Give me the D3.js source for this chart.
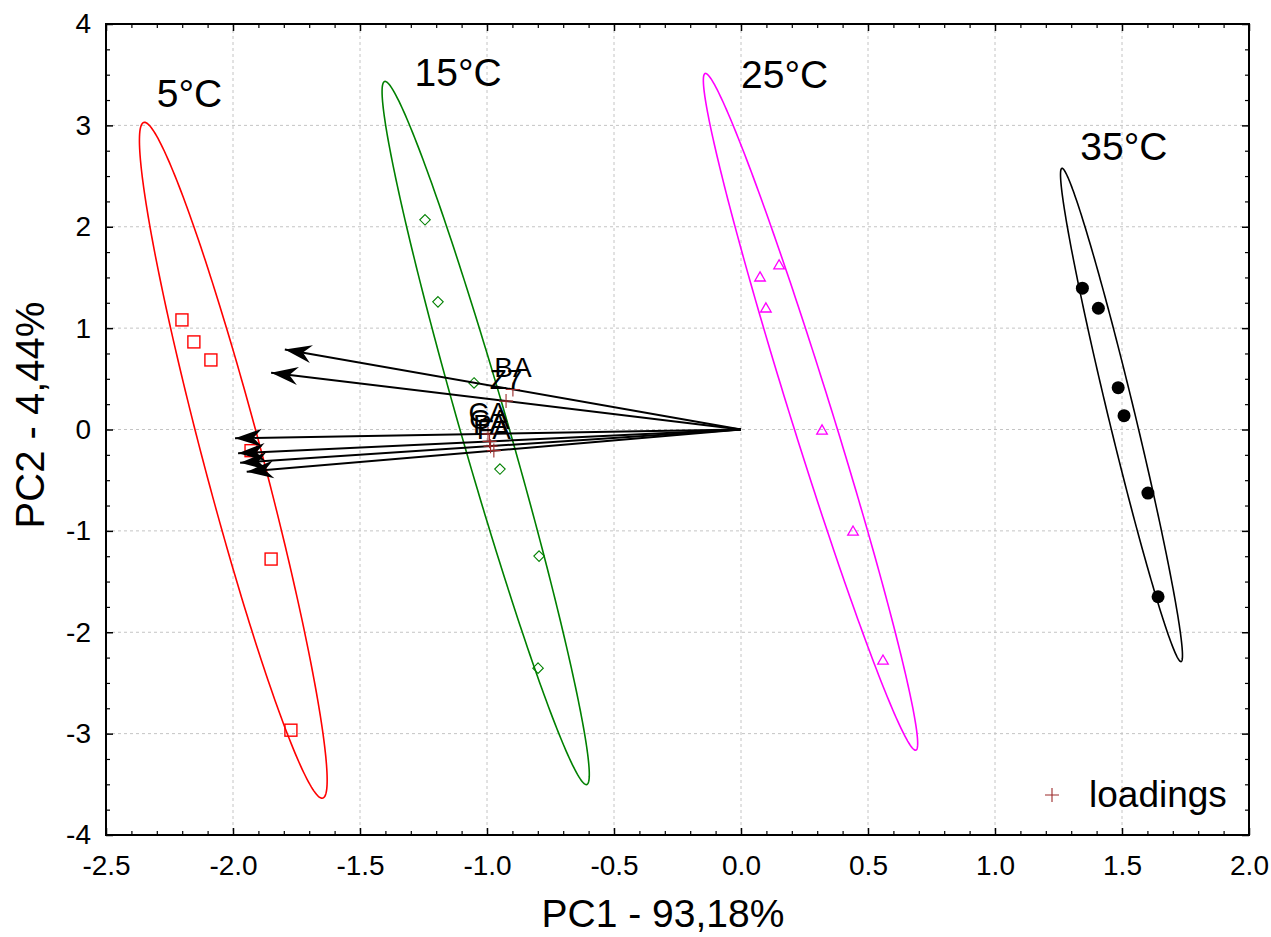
<!DOCTYPE html>
<html>
<head>
<meta charset="utf-8">
<script src="https://cdn.jsdelivr.net/npm/d3@7"></script>
<style>
  body { margin: 0; background: #fff; }
  text { font-family: "Liberation Sans", Arial, sans-serif; fill: #000; }
</style>
</head>
<body>
<svg id="chart" width="1271" height="937"></svg>
<script>
// scores (PC1, PC2) for each temperature group
const groups = ['5°C', '15°C', '25°C', '35°C'];
const scores5 = [[-2.201, 1.081], [-2.154, 0.864], [-2.087, 0.686], [-1.929, -0.209], [-1.850, -1.278], [-1.772, -2.966]];
const scores15 = [[-1.244, 2.068], [-1.193, 1.259], [-1.051, 0.459], [-0.949, -0.390], [-0.795, -1.249], [-0.799, -2.354]];
const scores25 = [[0.075, 1.505], [0.098, 1.199], [0.150, 1.624], [0.319, -0.005], [0.441, -1.002], [0.559, -2.275]];
const scores35 = [[1.344, 1.394], [1.407, 1.196], [1.485, 0.413], [1.508, 0.136], [1.602, -0.627], [1.642, -1.650]];
// where the group names sit (data units, left / baseline)
const groupLabelPos = [[-2.30, 3.18], [-1.285, 3.39], [0.0, 3.37], [1.336, 2.66]];

// loadings
const loadingNames = ['BA', 'Z7', 'CA', 'GA', 'PA', 'FA'];
const loadingPC1 = [-0.898, -0.925, -0.996, -0.990, -0.986, -0.973];
const loadingPC2 = [0.395, 0.280, -0.043, -0.117, -0.164, -0.208];

const xTicks = [-2.5, -2.0, -1.5, -1.0, -0.5, 0.0, 0.5, 1.0, 1.5, 2.0];
const yTicks = [-4, -3, -2, -1, 0, 1, 2, 3, 4];
const xTitle = 'PC1 - 93,18%';
const yTitle = 'PC2 - 4,44%';

const colors = ['#ff0000', '#008000', '#ff00ff', '#000000'];
const arrowScale = 2;      // arrows drawn at twice the loading
const ellipseK = 2.125;    // ellipse size in standard deviations

const svg = d3.select('#chart');
const plot = { left: 106, right: 1249, top: 24, bottom: 835 };

const x = d3.scaleLinear().domain([-2.5, 2.0]).range([plot.left, plot.right]);
const y = d3.scaleLinear().domain([-4, 4]).range([plot.bottom, plot.top]);

// grid
const grid = svg.append('g')
  .attr('stroke', '#c4c4c4')
  .attr('stroke-width', 1)
  .attr('stroke-dasharray', '3,3');
grid.selectAll('.gx').data(xTicks.slice(1, -1)).enter().append('line')
  .attr('x1', d => x(d)).attr('x2', d => x(d))
  .attr('y1', plot.top).attr('y2', plot.bottom);
grid.selectAll('.gy').data(yTicks.slice(1, -1)).enter().append('line')
  .attr('y1', d => y(d)).attr('y2', d => y(d))
  .attr('x1', plot.left).attr('x2', plot.right);

// axes with inward ticks
const xMinor = d3.range(-25, 21).map(d => d / 10).filter(d => !xTicks.some(t => Math.abs(t - d) < 1e-9));
const yMinor = d3.range(-16, 17).map(d => d / 4).filter(d => !yTicks.includes(d));
const fmtX = d => d.toFixed(1);

function addAxis(axisFn, scale, pos, major, minor, labels) {
  const g = svg.append('g').attr('transform', pos);
  g.call(axisFn(scale).tickValues(major).tickSize(-7).tickPadding(labels ? labels.pad : 0)
      .tickFormat(labels ? labels.fmt : ''))
    .call(s => s.select('.domain').remove());
  g.selectAll('.tick line').attr('stroke', '#000').attr('stroke-width', 1.5);
  g.selectAll('.tick text').style('font-size', '28px').attr('fill', '#000');
  const m = svg.append('g').attr('transform', pos);
  m.call(axisFn(scale).tickValues(minor).tickSize(-4).tickFormat(''))
    .call(s => s.select('.domain').remove());
  m.selectAll('.tick line').attr('stroke', '#000').attr('stroke-width', 1.2);
  return g;
}
addAxis(d3.axisBottom, x, `translate(0,${plot.bottom})`, xTicks, xMinor, { pad: 20, fmt: fmtX });
addAxis(d3.axisTop, x, `translate(0,${plot.top})`, xTicks, xMinor, null);
addAxis(d3.axisLeft, y, `translate(${plot.left},0)`, yTicks, yMinor, { pad: 15, fmt: d => String(d) });
addAxis(d3.axisRight, y, `translate(${plot.right},0)`, yTicks, yMinor, null);

svg.append('rect')
  .attr('x', plot.left).attr('y', plot.top)
  .attr('width', plot.right - plot.left).attr('height', plot.bottom - plot.top)
  .attr('fill', 'none').attr('stroke', '#000').attr('stroke-width', 2);

// confidence ellipses from each group's covariance
const allScores = [scores5, scores15, scores25, scores35];
const ellipseLine = d3.line().x(d => x(d[0])).y(d => y(d[1])).curve(d3.curveLinearClosed);

function ellipsePoints(pts) {
  const n = pts.length;
  const mx = d3.mean(pts, p => p[0]), my = d3.mean(pts, p => p[1]);
  let sxx = 0, syy = 0, sxy = 0;
  pts.forEach(p => {
    sxx += (p[0] - mx) ** 2; syy += (p[1] - my) ** 2; sxy += (p[0] - mx) * (p[1] - my);
  });
  sxx /= n - 1; syy /= n - 1; sxy /= n - 1;
  const tr = sxx + syy, det = sxx * syy - sxy * sxy;
  const l1 = tr / 2 + Math.sqrt(tr * tr / 4 - det);
  const l2 = tr / 2 - Math.sqrt(tr * tr / 4 - det);
  const theta = Math.atan2(l1 - sxx, sxy);
  const a = ellipseK * Math.sqrt(l1), b = ellipseK * Math.sqrt(Math.max(l2, 0));
  return d3.range(0, 360, 1.5).map(deg => {
    const t = deg * Math.PI / 180;
    const ex = a * Math.cos(t), ey = b * Math.sin(t);
    return [mx + ex * Math.cos(theta) - ey * Math.sin(theta),
            my + ex * Math.sin(theta) + ey * Math.cos(theta)];
  });
}

svg.append('g').selectAll('path').data(allScores).enter().append('path')
  .attr('d', d => ellipseLine(ellipsePoints(d)))
  .attr('fill', 'none')
  .attr('stroke', (d, i) => colors[i])
  .attr('stroke-width', 1.6);

// markers
const markers = svg.append('g');
markers.selectAll('.sq').data(scores5).enter().append('rect')
  .attr('x', d => x(d[0]) - 6).attr('y', d => y(d[1]) - 6)
  .attr('width', 12).attr('height', 12)
  .attr('fill', 'none').attr('stroke', colors[0]).attr('stroke-width', 1.4);
markers.selectAll('.di').data(scores15).enter().append('path')
  .attr('d', d3.symbol(d3.symbolDiamond2, 70))
  .attr('transform', d => `translate(${x(d[0])},${y(d[1])})`)
  .attr('fill', 'none').attr('stroke', colors[1]).attr('stroke-width', 1.1);
markers.selectAll('.tr').data(scores25).enter().append('path')
  .attr('d', d3.symbol(d3.symbolTriangle2, 80))
  .attr('transform', d => `translate(${x(d[0])},${y(d[1]) + 1})`)
  .attr('fill', 'none').attr('stroke', colors[2]).attr('stroke-width', 1.3);
markers.selectAll('.ci').data(scores35).enter().append('circle')
  .attr('cx', d => x(d[0])).attr('cy', d => y(d[1])).attr('r', 6.5)
  .attr('fill', colors[3]);

// group names
svg.append('g').selectAll('text').data(groups).enter().append('text')
  .attr('x', (d, i) => x(groupLabelPos[i][0]))
  .attr('y', (d, i) => y(groupLabelPos[i][1]))
  .style('font-size', '39px')
  .text(d => d);

// loadings: arrows, crosses and names
const loadings = loadingNames.map((name, i) => ({ name, pc1: loadingPC1[i], pc2: loadingPC2[i] }));
const x0 = x(0), y0 = y(0);

const arrows = svg.append('g');
arrows.selectAll('line').data(loadings).enter().append('line')
  .attr('x1', x0).attr('y1', y0)
  .attr('x2', d => x(d.pc1 * arrowScale)).attr('y2', d => y(d.pc2 * arrowScale))
  .attr('stroke', '#000').attr('stroke-width', 2);
arrows.selectAll('path').data(loadings).enter().append('path')
  .attr('d', d => {
    const tx = x(d.pc1 * arrowScale), ty = y(d.pc2 * arrowScale);
    const len = Math.hypot(tx - x0, ty - y0);
    const ux = (tx - x0) / len, uy = (ty - y0) / len;
    const L = 27, w = 9;
    const bx = tx - ux * L, by = ty - uy * L;
    const nx = -uy, ny = ux;
    return `M${tx},${ty}L${bx + nx * w},${by + ny * w}L${tx - ux * L * 0.68},${ty - uy * L * 0.68}L${bx - nx * w},${by - ny * w}Z`;
  })
  .attr('fill', '#000');

const crossColor = '#9b2a2a';
const plus = (cx, cy, s) => `M${cx - s},${cy}H${cx + s}M${cx},${cy - s}V${cy + s}`;
svg.append('g').selectAll('path').data(loadings).enter().append('path')
  .attr('d', d => plus(x(d.pc1), y(d.pc2), 7))
  .attr('stroke', crossColor).attr('stroke-width', 1.1).attr('fill', 'none');
svg.append('g').selectAll('text').data(loadings).enter().append('text')
  .attr('x', d => x(d.pc1))
  .attr('y', d => y(d.pc2) - 12)
  .attr('text-anchor', 'middle')
  .style('font-size', '28px')
  .text(d => d.name);

// legend
svg.append('path').attr('d', plus(1052, 795, 7))
  .attr('stroke', crossColor).attr('stroke-width', 1.1);
svg.append('text').attr('x', 1089).attr('y', 807)
  .style('font-size', '37px').text('loadings');

// axis titles
svg.append('text').attr('x', 663).attr('y', 927)
  .attr('text-anchor', 'middle').style('font-size', '39px').text(xTitle);
svg.append('text')
  .attr('transform', 'translate(44,415) rotate(-90)')
  .attr('text-anchor', 'middle').style('font-size', '40px').text(yTitle);
</script>
</body>
</html>
